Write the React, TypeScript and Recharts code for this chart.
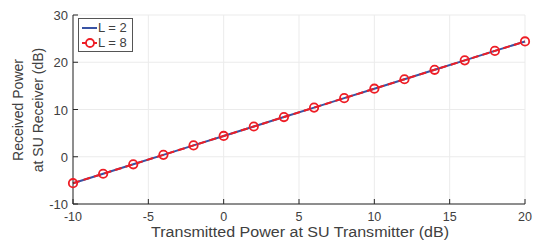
import React from 'react';
import { LineChart, Line, XAxis, YAxis, CartesianGrid } from 'recharts';

const txPower = [-10, -8, -6, -4, -2, 0, 2, 4, 6, 8, 10, 12, 14, 16, 18, 20];
const rxL2 = [-5.6, -3.6, -1.6, 0.4, 2.4, 4.4, 6.4, 8.4, 10.4, 12.4, 14.4, 16.4, 18.4, 20.4, 22.4, 24.4];
const rxL8 = [-5.6, -3.6, -1.6, 0.4, 2.4, 4.4, 6.4, 8.4, 10.4, 12.4, 14.4, 16.4, 18.4, 20.4, 22.4, 24.4];
const xTicks = [-10, -5, 0, 5, 10, 15, 20];
const yTicks = [-10, 0, 10, 20, 30];

const AXIS = '#262626';
const TEXT = '#404040';
const BLUE = '#3853A4';
const RED = '#EE1D25';
const FONT = '"Liberation Sans", Arial, sans-serif';

const data = txPower.map((x, i) => ({ x, l2: rxL2[i], l8: rxL8[i] }));

const BottomTick = (props: any) => {
  const { x, y, payload } = props;
  return (
    <g>
      <line x1={x} x2={x} y1={y} y2={y - 5} stroke={AXIS} />
      <text x={x} y={y + 17} textAnchor="middle" fill={TEXT} fontSize={12.5} fontFamily={FONT}>
        {payload.value}
      </text>
    </g>
  );
};

const TopTick = (props: any) => {
  const { x, y } = props;
  return <line x1={x} x2={x} y1={y} y2={y + 5} stroke={AXIS} />;
};

const LeftTick = (props: any) => {
  const { x, y, payload } = props;
  return (
    <g>
      <line x1={x} x2={x + 5} y1={y} y2={y} stroke={AXIS} />
      <text x={x - 5} y={y + 5} textAnchor="end" fill={TEXT} fontSize={13} fontFamily={FONT}>
        {payload.value}
      </text>
    </g>
  );
};

const RightTick = (props: any) => {
  const { x, y } = props;
  return <line x1={x} x2={x - 5} y1={y} y2={y} stroke={AXIS} />;
};

const CircleDot = (props: any) => {
  const { cx, cy, index } = props;
  if (cx == null || cy == null) return null;
  return <circle key={index} cx={cx} cy={cy} r={4.2} stroke={RED} strokeWidth={1.8} fill="none" />;
};

export default function App() {
  return (
    <div style={{ position: 'absolute', left: 0, top: 0, width: 533, height: 242, background: '#fff' }}>
      <LineChart width={533} height={242} data={data} margin={{ top: 15, right: 8, bottom: 0, left: 0 }}>
        <CartesianGrid stroke="#EBEBEB" strokeWidth={1} />
        <XAxis
          dataKey="x"
          type="number"
          domain={[-10, 20]}
          ticks={xTicks}
          tickSize={0}
          tickMargin={0}
          tick={<BottomTick />}
          axisLine={{ stroke: AXIS }}
          height={38}
        />
        <XAxis
          xAxisId="top"
          orientation="top"
          dataKey="x"
          type="number"
          domain={[-10, 20]}
          ticks={xTicks}
          tickSize={0}
          tickMargin={0}
          tick={<TopTick />}
          axisLine={{ stroke: AXIS }}
          height={0}
        />
        <YAxis
          type="number"
          domain={[-10, 30]}
          ticks={yTicks}
          tickSize={0}
          tickMargin={0}
          tick={<LeftTick />}
          axisLine={{ stroke: AXIS }}
          width={73}
        />
        <YAxis
          yAxisId="right"
          orientation="right"
          type="number"
          domain={[-10, 30]}
          ticks={yTicks}
          tickSize={0}
          tickMargin={0}
          tick={<RightTick />}
          axisLine={{ stroke: AXIS }}
          width={0}
        />
        <Line dataKey="l2" stroke={BLUE} strokeWidth={2} dot={false} isAnimationActive={false} />
        <Line
          dataKey="l8"
          stroke={RED}
          strokeWidth={2}
          strokeDasharray="7 4"
          dot={<CircleDot />}
          isAnimationActive={false}
        />
      </LineChart>

      {/* axis titles */}
      <svg width={533} height={242} style={{ position: 'absolute', left: 0, top: 0, pointerEvents: 'none' }}>
        <text fill={TEXT} fontSize={14} fontFamily={FONT} textAnchor="middle" transform="translate(23,110) rotate(-90)">
          <tspan x={0} dy={0}>Received Power</tspan>
          <tspan x={0} dy={19.5}>at SU Receiver (dB)</tspan>
        </text>
        <text
          x={151}
          y={237}
          fill={TEXT}
          fontSize={14}
          fontFamily={FONT}
          textLength={298}
          lengthAdjust="spacingAndGlyphs"
        >
          Transmitted Power at SU Transmitter (dB)
        </text>
      </svg>

      {/* legend */}
      <div
        style={{
          position: 'absolute',
          left: 78,
          top: 18,
          border: '1px solid #555',
          background: '#fff',
          padding: '1px 5px 1px 2px',
          fontFamily: FONT,
          fontSize: 13,
          color: TEXT,
          lineHeight: '15px',
        }}
      >
        <div style={{ display: 'flex', alignItems: 'center' }}>
          <svg width={17} height={12}>
            <line x1={1} x2={16} y1={6} y2={6} stroke={BLUE} strokeWidth={2} />
          </svg>
          <span>L = 2</span>
        </div>
        <div style={{ display: 'flex', alignItems: 'center' }}>
          <svg width={17} height={12}>
            <line x1={1} x2={16} y1={6} y2={6} stroke={RED} strokeWidth={2} />
            <circle cx={9} cy={6} r={4} stroke={RED} strokeWidth={1.8} fill="#fff" />
          </svg>
          <span>L = 8</span>
        </div>
      </div>
    </div>
  );
}
